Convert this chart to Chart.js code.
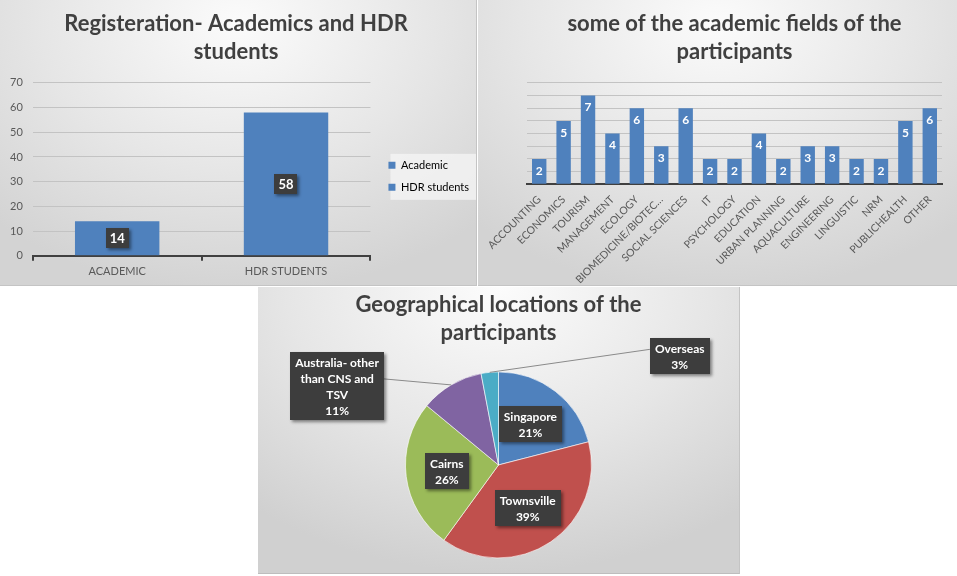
<!DOCTYPE html>
<html>
<head>
<meta charset="utf-8">
<script src="https://cdn.jsdelivr.net/npm/chart.js@4.4.0/dist/chart.umd.min.js"></script>
<style>
  body { margin: 0; width: 957px; height: 576px; background: #fff; position: relative; overflow: hidden; }
  .panel { position: absolute; box-sizing: border-box; }
  #p1 { left: 0; top: 0; width: 477px; height: 286px;
        background: radial-gradient(ellipse 75% 95% at 50% 8%, #fbfbfb 0%, #e6e6e6 55%, #d3d3d3 100%);
        border-right: 1px solid #c4c4c4; border-bottom: 1px solid #c4c4c4; }
  #p2 { left: 478px; top: 0; width: 479px; height: 286px;
        background: radial-gradient(ellipse 75% 95% at 50% 8%, #fbfbfb 0%, #e6e6e6 55%, #d3d3d3 100%);
        border-bottom: 1px solid #c4c4c4; }
  #p3 { left: 258px; top: 287px; width: 482px; height: 287px;
        background: radial-gradient(ellipse 80% 100% at 50% 0%, #fcfcfc 0%, #e6e6e6 55%, #d0d0d0 100%);
        border-right: 1px solid #c4c4c4; border-bottom: 1px solid #bdbdbd; }
  canvas { position: absolute; left: 0; top: 0; }
</style>
</head>
<body>
<div class="panel" id="p1"><canvas id="regChart" width="476" height="285"></canvas></div>
<div class="panel" id="p2"><canvas id="fieldChart" width="479" height="285"></canvas></div>
<div class="panel" id="p3"><canvas id="geoChart" width="481" height="286"></canvas></div>
<script>
const FONT = 'Lato, "Open Sans", sans-serif';

// registration chart
const regLabels = ['ACADEMIC', 'HDR STUDENTS'];
const regLegend = ['Academic', 'HDR students'];
const regValues = [14, 58];
const regMax = 70;
const regStep = 10;

// academic fields chart
const fieldLabels = ['ACCOUNTING', 'ECONOMICS', 'TOURISM', 'MANAGEMENT', 'ECOLOGY', 'BIOMEDICINE/BIOTEC…',
  'SOCIAL SCIENCES', 'IT', 'PSYCHOLOGY', 'EDUCATION', 'URBAN PLANNING', 'AQUACULTURE', 'ENGINEERING',
  'LINGUISTIC', 'NRM', 'PUBLICHEALTH', 'OTHER'];
const fieldValues = [2, 5, 7, 4, 6, 3, 6, 2, 2, 4, 2, 3, 3, 2, 2, 5, 6];
const fieldMax = 8;

// geography pie
const geoLabels = ['Singapore', 'Townsville', 'Cairns', 'Australia- other than CNS and TSV', 'Overseas'];
const geoLines = [['Singapore'], ['Townsville'], ['Cairns'], ['Australia- other', 'than CNS and', 'TSV'], ['Overseas']];
const geoValues = [21, 39, 26, 11, 3];
const geoColors = ['#4F81BD', '#C0504D', '#9BBB59', '#8064A2', '#4BACC6'];
// label offsets from the slice edge for labels placed outside the pie
const geoOutside = [null, null, null, [-114, 1], [190, -16]];

const BLUE = '#4F81BD';
const TITLE_COLOR = '#404040';
const TEXT_COLOR = '#595959';

function darkBox(ctx, cx, cy, w, h) {
  ctx.save();
  ctx.shadowColor = 'rgba(0,0,0,0.45)';
  ctx.shadowBlur = 3;
  ctx.shadowOffsetX = 2;
  ctx.shadowOffsetY = 2;
  ctx.fillStyle = '#3d3d3d';
  ctx.fillRect(Math.round(cx - w / 2), Math.round(cy - h / 2), Math.round(w), Math.round(h));
  ctx.restore();
}

const boxedBarLabels = {
  id: 'boxedBarLabels',
  afterDatasetsDraw(chart) {
    const ctx = chart.ctx;
    chart.getDatasetMeta(0).data.forEach((bar, i) => {
      const cy = (bar.y + bar.base) / 2;
      const txt = String(regValues[i]);
      ctx.save();
      ctx.font = 'bold 13px ' + FONT;
      const w = ctx.measureText(txt).width + 8;
      darkBox(ctx, bar.x, cy, w, 20);
      ctx.fillStyle = '#fff';
      ctx.textAlign = 'center';
      ctx.textBaseline = 'middle';
      ctx.fillText(txt, bar.x, cy + 1);
      ctx.restore();
    });
  }
};

// move the legend a little off the plot, the way the original sits, and give it a pale box
const legendNudge = {
  id: 'legendNudge',
  afterLayout(chart) {
    const lg = chart.legend;
    if (!lg) return;
    const dx = 7, dy = 7;
    lg.left += dx; lg.right += dx; lg.top += dy; lg.bottom += dy;
    (lg.legendHitBoxes || []).forEach(b => { b.left += dx; b.top += dy; });
  },
  beforeDraw(chart) {
    const boxes = chart.legend && chart.legend.legendHitBoxes;
    if (!boxes || !boxes.length) return;
    const x0 = Math.min(...boxes.map(b => b.left)) - 5;
    const y0 = Math.min(...boxes.map(b => b.top)) - 6;
    const x1 = Math.max(...boxes.map(b => b.left + b.width)) + 5;
    const y1 = Math.max(...boxes.map(b => b.top + b.height)) + 7;
    const ctx = chart.ctx;
    ctx.save();
    ctx.fillStyle = 'rgba(245,245,245,0.75)';
    ctx.fillRect(x0, y0, x1 - x0, y1 - y0);
    ctx.restore();
  }
};

const topBarLabels = {
  id: 'topBarLabels',
  afterDatasetsDraw(chart) {
    const ctx = chart.ctx;
    ctx.save();
    ctx.font = 'bold 12px ' + FONT;
    ctx.fillStyle = '#fff';
    ctx.textAlign = 'center';
    ctx.textBaseline = 'middle';
    chart.getDatasetMeta(0).data.forEach((bar, i) => {
      ctx.fillText(String(fieldValues[i]), bar.x, bar.y + 12);
    });
    ctx.restore();
  }
};

const pieLabels = {
  id: 'pieLabels',
  afterDatasetsDraw(chart) {
    const ctx = chart.ctx;
    const lh = 16;
    chart.getDatasetMeta(0).data.forEach((arc, i) => {
      const lines = geoLines[i].concat([geoValues[i] + '%']);
      const mid = (arc.startAngle + arc.endAngle) / 2;
      ctx.save();
      ctx.font = 'bold 12px ' + FONT;
      const w = Math.max(...lines.map(l => ctx.measureText(l).width)) + 10;
      const h = lines.length * lh + 4;
      let cx, cy;
      const off = geoOutside[i];
      if (off) {
        const ex = arc.x + Math.cos(mid) * arc.outerRadius;
        const ey = arc.y + Math.sin(mid) * arc.outerRadius;
        cx = ex + off[0];
        cy = ey + off[1];
        const sx = off[0] < 0 ? cx + w / 2 : cx - w / 2;
        ctx.strokeStyle = '#8a8a8a';
        ctx.lineWidth = 1;
        ctx.beginPath();
        ctx.moveTo(sx, cy - 7);
        ctx.lineTo(ex, ey);
        ctx.stroke();
      } else {
        cx = arc.x + Math.cos(mid) * arc.outerRadius * 0.56;
        cy = arc.y + Math.sin(mid) * arc.outerRadius * 0.56;
      }
      darkBox(ctx, cx, cy, w, h);
      ctx.fillStyle = '#fff';
      ctx.textAlign = 'center';
      ctx.textBaseline = 'middle';
      lines.forEach((l, k) => {
        ctx.fillText(l, cx, cy - h / 2 + 2 + lh * k + lh / 2 + 1);
      });
      ctx.restore();
    });
  }
};

const titleFont = { family: FONT, size: 22, weight: 'bold', lineHeight: 1.27 };

new Chart(document.getElementById('regChart'), {
  type: 'bar',
  data: {
    labels: regLabels,
    datasets: [{ data: regValues, backgroundColor: BLUE, barPercentage: 0.5, categoryPercentage: 1 }]
  },
  options: {
    responsive: false,
    animation: false,
    layout: { padding: { left: 0, right: 4, bottom: 3 } },
    plugins: {
      title: { display: true, text: ['Registeration- Academics and HDR', 'students'], color: TITLE_COLOR,
               font: titleFont, padding: { top: 10, bottom: 17 } },
      legend: {
        position: 'right',
        fullSize: false,
        onClick: null,
        labels: {
          boxWidth: 7, boxHeight: 7, color: TEXT_COLOR, font: { family: FONT, size: 11 }, padding: 11,
          generateLabels: chart => regLegend.map((t, i) => ({
            text: t, fillStyle: BLUE, strokeStyle: BLUE, lineWidth: 0, hidden: false, index: i
          }))
        }
      },
      tooltip: { enabled: false }
    },
    scales: {
      x: {
        grid: { display: true, drawOnChartArea: false, drawTicks: true, tickLength: 5, color: '#404040', lineWidth: 2, offset: true },
        border: { color: '#404040', width: 2 },
        ticks: { color: TEXT_COLOR, font: { family: FONT, size: 11 }, padding: 4 }
      },
      y: {
        min: 0, max: regMax,
        grid: { color: '#c3c3c3', drawTicks: false },
        border: { display: false },
        ticks: { stepSize: regStep, color: TEXT_COLOR, font: { family: FONT, size: 11 }, padding: 10 }
      }
    }
  },
  plugins: [legendNudge, boxedBarLabels]
});

new Chart(document.getElementById('fieldChart'), {
  type: 'bar',
  data: {
    labels: fieldLabels,
    datasets: [{ data: fieldValues, backgroundColor: BLUE, barPercentage: 0.59, categoryPercentage: 1 }]
  },
  options: {
    responsive: false,
    animation: false,
    layout: { padding: { left: 49, right: 15, top: 0, bottom: -2 } },
    plugins: {
      title: { display: true, text: ['some of the academic fields of the', 'participants'], color: TITLE_COLOR,
               font: titleFont, padding: { top: 10, bottom: 17 } },
      legend: { display: false },
      tooltip: { enabled: false }
    },
    scales: {
      x: {
        grid: { display: false },
        border: { color: '#404040', width: 2 },
        ticks: { color: TEXT_COLOR, font: { family: FONT, size: 10.5 }, minRotation: 45, maxRotation: 45, autoSkip: false, padding: 1 }
      },
      y: {
        min: 0, max: fieldMax,
        grid: { color: '#c3c3c3', drawTicks: false },
        border: { display: false },
        ticks: { display: false, stepSize: 1 }
      }
    }
  },
  plugins: [topBarLabels]
});

new Chart(document.getElementById('geoChart'), {
  type: 'pie',
  data: {
    labels: geoLabels,
    datasets: [{ data: geoValues, backgroundColor: geoColors, borderColor: 'rgba(255,255,255,0.6)', borderWidth: 1 }]
  },
  options: {
    responsive: false,
    animation: false,
    radius: 93,
    layout: { padding: 0 },
    plugins: {
      title: { display: true, text: ['Geographical locations of the', 'participants'], color: TITLE_COLOR,
               font: titleFont, padding: { top: 4, bottom: 10 } },
      legend: { display: false },
      tooltip: { enabled: false }
    }
  },
  plugins: [pieLabels]
});
</script>
</body>
</html>
